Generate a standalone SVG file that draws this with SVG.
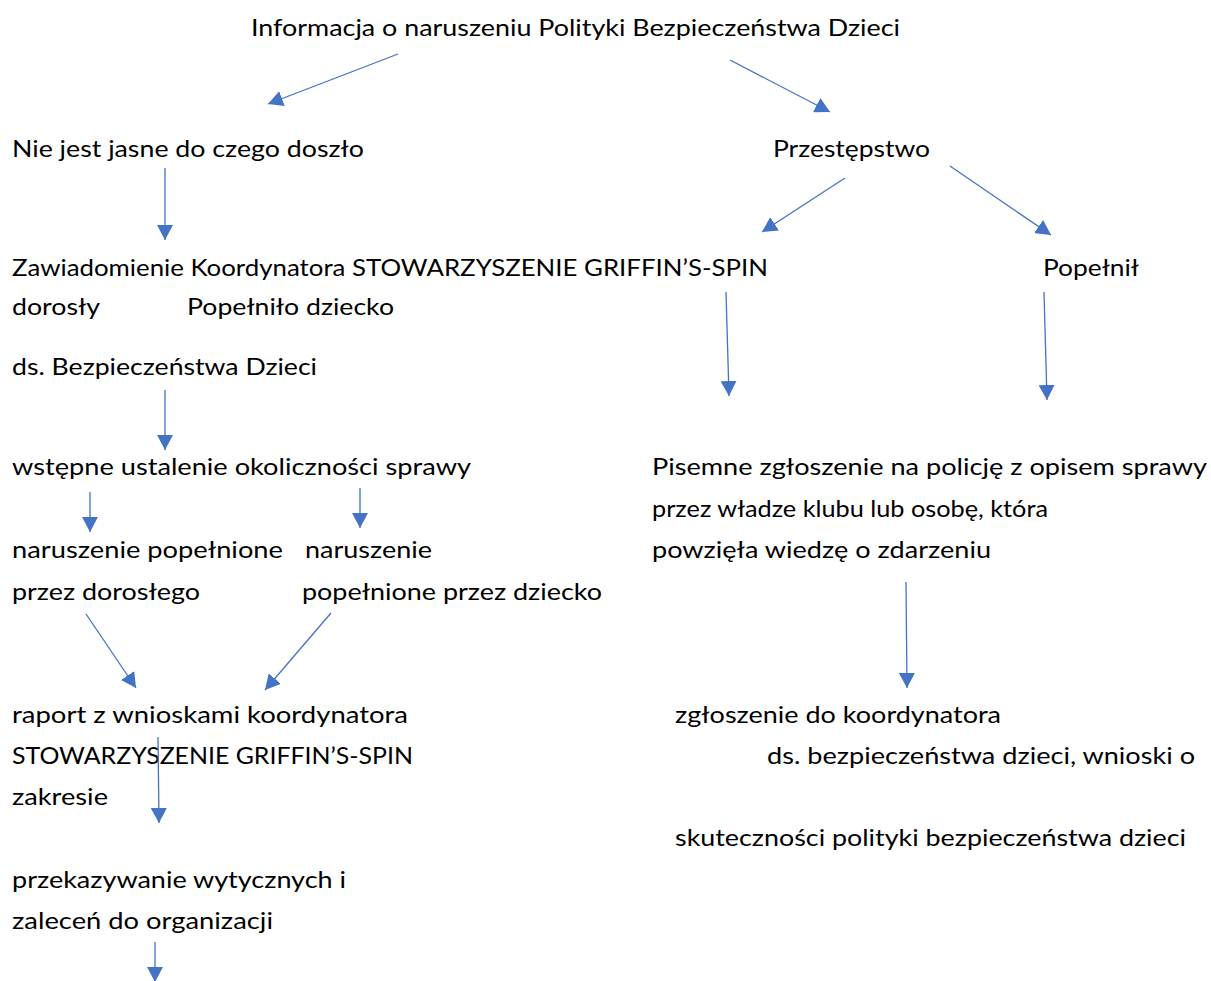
<svg xmlns="http://www.w3.org/2000/svg" width="1211" height="981" viewBox="0 0 1211 981">
<style>
text{font-family:Lato,"Open Sans","Liberation Sans",sans-serif;font-size:24px;fill:#000}
.c line{stroke:#4472C4;stroke-width:1.3;marker-end:url(#ah)}
</style>
<defs>
<marker id="ah" viewBox="0 0 15 16" refX="15" refY="8" markerUnits="userSpaceOnUse" markerWidth="15" markerHeight="16" orient="auto">
<path d="M0,0 L15,8 L0,16 z" fill="#4472C4"/>
</marker>
</defs>
<rect width="1211" height="981" fill="#fff"/>
<g id="n-info"><text x="251" y="36" textLength="649" lengthAdjust="spacingAndGlyphs">Informacja o naruszeniu Polityki Bezpieczeństwa Dzieci</text></g>
<g id="n-niejasne"><text x="12" y="157" textLength="352" lengthAdjust="spacingAndGlyphs">Nie jest jasne do czego doszło</text></g>
<g id="n-przestepstwo"><text x="773" y="157" textLength="157" lengthAdjust="spacingAndGlyphs">Przestępstwo</text></g>
<g id="n-zawiadomienie">
<text x="12" y="276" textLength="756" lengthAdjust="spacingAndGlyphs">Zawiadomienie Koordynatora STOWARZYSZENIE GRIFFIN’S-SPIN</text>
<text x="12" y="375" textLength="305" lengthAdjust="spacingAndGlyphs">ds. Bezpieczeństwa Dzieci</text>
</g>
<g id="n-dorosly"><text x="12" y="315" textLength="88" lengthAdjust="spacingAndGlyphs">dorosły</text></g>
<g id="n-popelnilo"><text x="187" y="315" textLength="207" lengthAdjust="spacingAndGlyphs">Popełniło dziecko</text></g>
<g id="n-popelnil"><text x="1043" y="276" textLength="96" lengthAdjust="spacingAndGlyphs">Popełnił</text></g>
<g id="n-wstepne"><text x="12" y="475" textLength="459" lengthAdjust="spacingAndGlyphs">wstępne ustalenie okoliczności sprawy</text></g>
<g id="n-pisemne">
<text x="652" y="475" textLength="555" lengthAdjust="spacingAndGlyphs">Pisemne zgłoszenie na policję z opisem sprawy</text>
<text x="652" y="517" textLength="396" lengthAdjust="spacingAndGlyphs">przez władze klubu lub osobę, która</text>
<text x="652" y="558" textLength="339" lengthAdjust="spacingAndGlyphs">powzięła wiedzę o zdarzeniu</text>
</g>
<g id="n-dorosly2">
<text x="12" y="558" textLength="271" lengthAdjust="spacingAndGlyphs">naruszenie popełnione</text>
<text x="12" y="600" textLength="188" lengthAdjust="spacingAndGlyphs">przez dorosłego</text>
</g>
<g id="n-dziecko">
<text x="305" y="558" textLength="127" lengthAdjust="spacingAndGlyphs">naruszenie</text>
<text x="302" y="600" textLength="300" lengthAdjust="spacingAndGlyphs">popełnione przez dziecko</text>
</g>
<g id="n-raport">
<text x="12" y="723" textLength="396" lengthAdjust="spacingAndGlyphs">raport z wnioskami koordynatora</text>
<text x="12" y="764" textLength="401" lengthAdjust="spacingAndGlyphs">STOWARZYSZENIE GRIFFIN’S-SPIN</text>
<text x="12" y="805" textLength="96" lengthAdjust="spacingAndGlyphs">zakresie</text>
</g>
<g id="n-zgloszenie">
<text x="675" y="723" textLength="326" lengthAdjust="spacingAndGlyphs">zgłoszenie do koordynatora</text>
<text x="767" y="764" textLength="428" lengthAdjust="spacingAndGlyphs">ds. bezpieczeństwa dzieci, wnioski o</text>
<text x="675" y="846" textLength="511" lengthAdjust="spacingAndGlyphs">skuteczności polityki bezpieczeństwa dzieci</text>
</g>
<g id="n-przekazywanie">
<text x="12" y="888" textLength="334" lengthAdjust="spacingAndGlyphs">przekazywanie wytycznych i</text>
<text x="12" y="929" textLength="261" lengthAdjust="spacingAndGlyphs">zaleceń do organizacji</text>
</g>
<g id="connectors" class="c">
<line x1="398" y1="54" x2="268" y2="104"/>
<line x1="730" y1="60" x2="830" y2="112"/>
<line x1="165" y1="168" x2="165" y2="240"/>
<line x1="845" y1="178" x2="762" y2="232"/>
<line x1="950" y1="166" x2="1051" y2="235"/>
<line x1="726" y1="292" x2="729" y2="396"/>
<line x1="1044" y1="292" x2="1047" y2="400"/>
<line x1="165" y1="390" x2="165" y2="450"/>
<line x1="90" y1="492" x2="90" y2="532"/>
<line x1="360" y1="488" x2="360" y2="528"/>
<line x1="86" y1="614" x2="136" y2="688"/>
<line x1="331" y1="613" x2="265" y2="690"/>
<line x1="158" y1="737" x2="159" y2="823"/>
<line x1="906" y1="582" x2="907" y2="688"/>
<line x1="155" y1="942" x2="155" y2="982"/>
</g>
</svg>
